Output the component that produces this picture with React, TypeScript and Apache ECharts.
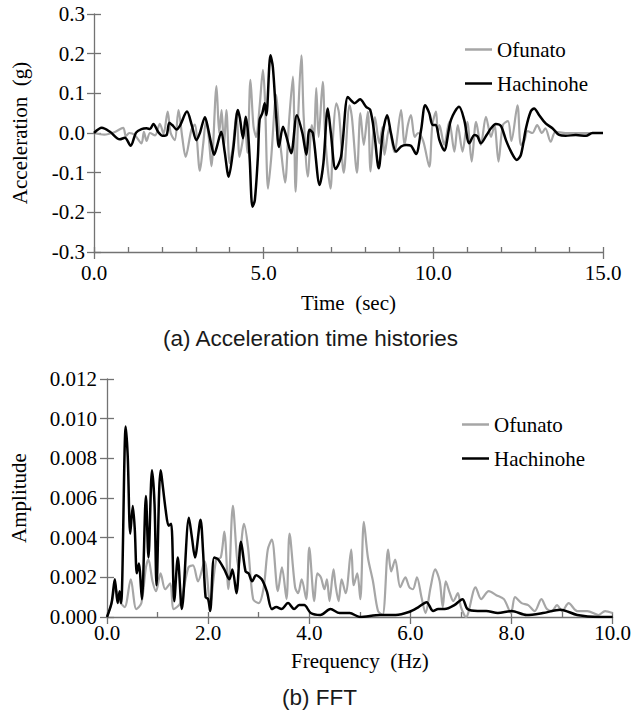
import React, { useEffect, useRef } from "react";
import * as echarts from "echarts";

const SERIF = "'Liberation Serif', 'Times New Roman', serif";
const SANS = "'Liberation Sans', Arial, sans-serif";

// (a) Acceleration time histories
const hachTime = [0, 0.23, 0.47, 0.76, 0.91, 1.08, 1.24, 1.4, 1.55, 1.65, 1.75, 1.89, 2.02, 2.14, 2.22, 2.33, 2.43, 2.53, 2.74, 2.88, 3.02, 3.12, 3.27, 3.36, 3.46, 3.54, 3.62, 3.75, 3.85, 3.97, 4.1, 4.24, 4.3, 4.39, 4.47, 4.54, 4.59, 4.67, 4.74, 4.83, 4.88, 4.96, 5.03, 5.08, 5.2, 5.27, 5.37, 5.45, 5.57, 5.67, 5.81, 5.98, 6.14, 6.26, 6.35, 6.45, 6.65, 6.76, 6.89, 6.98, 7.12, 7.28, 7.48, 7.6, 7.68, 7.84, 8.02, 8.14, 8.26, 8.39, 8.51, 8.64, 8.75, 8.9, 9.05, 9.2, 9.34, 9.49, 9.64, 9.76, 9.88, 9.98, 10.07, 10.18, 10.32, 10.52, 10.76, 10.91, 11.06, 11.21, 11.3, 11.4, 11.57, 11.7, 11.84, 11.99, 12.14, 12.29, 12.46, 12.58, 12.73, 12.87, 12.97, 13.12, 13.31, 13.51, 13.71, 13.9, 14.2, 14.5, 14.69, 15];
const hachAcc = [0, 0.013, 0.003, -0.016, -0.012, -0.032, 0.001, 0.01, 0.012, 0.01, 0.023, 0.003, -0.007, -0.005, 0.026, 0.018, 0.009, 0.018, 0.054, 0.02, -0.018, 0, 0.04, 0.012, -0.03, -0.055, -0.035, 0.003, -0.047, -0.11, -0.043, 0.058, 0.037, -0.013, 0.041, 0, -0.068, -0.186, -0.169, -0.06, 0.033, 0.05, 0.075, 0.045, 0.196, 0.167, 0.041, -0.035, 0.016, -0.009, -0.051, 0.045, 0, -0.055, 0.008, 0, -0.131, -0.076, 0.062, 0, -0.091, -0.06, 0.091, 0.08, 0.075, 0.085, 0.066, 0.058, 0, -0.089, 0, 0.045, 0, -0.047, -0.034, -0.03, -0.032, -0.053, 0.008, 0.07, 0.05, 0.02, 0.02, -0.018, -0.044, 0.033, 0.066, 0.033, -0.026, -0.005, -0.008, -0.026, -0.005, 0.012, 0.023, 0.018, -0.018, -0.047, -0.068, -0.055, 0.012, 0.054, 0.062, 0.045, 0.024, 0.012, -0.005, -0.007, -0.005, -0.007, 0, 0];

const ofuTime = [0, 0.3, 0.6, 0.86, 0.94, 1.04, 1.2, 1.4, 1.47, 1.55, 1.65, 1.8, 1.94, 2.05, 2.17, 2.26, 2.38, 2.49, 2.6, 2.7, 2.87, 2.97, 3.12, 3.22, 3.3, 3.38, 3.46, 3.61, 3.69, 3.76, 3.83, 3.9, 4.0, 4.1, 4.2, 4.29, 4.38, 4.45, 4.52, 4.61, 4.7, 4.78, 4.88, 4.98, 5.04, 5.13, 5.22, 5.37, 5.45, 5.52, 5.63, 5.74, 5.86, 5.94, 6.02, 6.11, 6.18, 6.3, 6.42, 6.48, 6.55, 6.62, 6.74, 6.82, 6.97, 7.05, 7.14, 7.22, 7.36, 7.53, 7.6, 7.75, 7.85, 7.95, 8.07, 8.15, 8.28, 8.41, 8.5, 8.56, 8.7, 8.85, 9.05, 9.15, 9.25, 9.34, 9.45, 9.55, 9.7, 9.88, 9.97, 10.08, 10.13, 10.18, 10.32, 10.47, 10.62, 10.72, 10.86, 11.0, 11.13, 11.26, 11.4, 11.55, 11.7, 11.8, 11.92, 12.05, 12.2, 12.3, 12.48, 12.58, 12.68, 12.78, 12.92, 13.06, 13.2, 13.3, 13.46, 13.6, 13.9, 14.5, 15];
const ofuAcc = [0, -0.004, 0.002, 0.013, -0.008, 0, -0.005, -0.026, 0.003, -0.02, 0, -0.006, 0.023, -0.002, 0.054, 0, -0.018, 0.058, -0.01, -0.06, 0.008, 0.021, -0.095, -0.026, 0.03, -0.01, -0.084, 0.118, 0, 0.058, -0.035, 0.058, -0.076, -0.03, 0.05, -0.06, -0.02, 0.02, -0.05, 0.134, 0.017, -0.01, 0.066, 0.159, 0.08, -0.14, -0.065, 0.096, 0.01, -0.051, -0.125, 0.02, 0.142, -0.148, 0.05, 0.196, 0.04, -0.11, 0.02, -0.01, 0.113, -0.01, 0.129, -0.02, -0.14, 0, 0.075, 0.05, -0.1, 0.07, 0.04, -0.1, 0.05, -0.03, 0.054, -0.097, 0.04, -0.026, 0.015, -0.055, 0.012, -0.048, 0.058, -0.03, 0.02, 0.045, -0.01, 0, -0.02, -0.085, 0.02, 0.054, 0, 0.02, -0.03, 0.028, -0.047, 0.02, -0.047, 0.028, -0.072, 0.028, -0.03, 0.041, -0.01, 0.02, -0.072, 0.02, 0.03, -0.02, 0.07, -0.03, -0.02, 0.005, 0, 0.02, 0, 0.012, -0.022, 0.003, 0, 0, 0];

// (b) FFT
const hachFreq = [0, 0.09, 0.155, 0.21, 0.25, 0.28, 0.37, 0.41, 0.46, 0.51, 0.55, 0.59, 0.63, 0.69, 0.77, 0.82, 0.89, 0.94, 0.98, 1.06, 1.16, 1.22, 1.27, 1.33, 1.4, 1.48, 1.62, 1.68, 1.74, 1.85, 1.9, 1.95, 2.0, 2.04, 2.12, 2.2, 2.32, 2.42, 2.48, 2.56, 2.65, 2.74, 2.8, 2.87, 2.95, 3.06, 3.16, 3.26, 3.35, 3.45, 3.58, 3.7, 3.8, 3.9, 4.03, 4.22, 4.42, 4.6, 4.8, 5.0, 5.4, 5.71, 5.97, 6.16, 6.32, 6.45, 6.55, 6.68, 6.87, 7.03, 7.13, 7.33, 7.5, 7.73, 8.0, 8.3, 8.62, 8.97, 9.3, 9.72, 10];
const hachAmp = [0, 0.0007, 0.0019, 0.0007, 0.0013, 0.0007, 0.0096, 0.0081, 0.0042, 0.0056, 0.0044, 0.0022, 0.0027, 0.0009, 0.0061, 0.003, 0.0074, 0.0057, 0.0016, 0.0074, 0.0054, 0.0046, 0.0047, 0.0008, 0.003, 0.0004, 0.005, 0.004, 0.003, 0.0049, 0.0033, 0.001, 0.0009, 0.0003, 0.003, 0.0029, 0.0024, 0.0019, 0.0024, 0.0012, 0.0038, 0.0023, 0.0022, 0.0018, 0.0021, 0.0019, 0.0013, 0.0004, 0.0005, 0.0004, 0.0007, 0.0004, 0.0006, 0.0006, 0.0002, 0.0001, 0.0004, 0.0002, 0.0002, 0, 0.0001, 0.0001, 0.00025, 0.0005, 0.00075, 0.0003, 0.0004, 0.0004, 0.0006, 0.0009, 0.0004, 0.0003, 0.0003, 0.0002, 0.0003, 0.0001, 0.0002, 0.00037, 0.0001, 0, 0];

const ofuFreq = [0, 0.1, 0.16, 0.25, 0.35, 0.47, 0.58, 0.68, 0.77, 0.82, 0.9, 0.97, 1.06, 1.15, 1.25, 1.32, 1.45, 1.61, 1.7, 1.8, 1.93, 2.04, 2.16, 2.25, 2.32, 2.4, 2.49, 2.6, 2.71, 2.79, 2.89, 3.0, 3.1, 3.18, 3.26, 3.38, 3.46, 3.55, 3.61, 3.72, 3.78, 3.85, 3.94, 4.0, 4.1, 4.16, 4.23, 4.3, 4.35, 4.4, 4.48, 4.52, 4.58, 4.64, 4.72, 4.83, 4.88, 4.95, 5.01, 5.08, 5.16, 5.26, 5.36, 5.45, 5.56, 5.62, 5.7, 5.8, 5.9, 5.98, 6.05, 6.13, 6.22, 6.3, 6.4, 6.49, 6.58, 6.64, 6.7, 6.78, 6.85, 6.94, 7.0, 7.1, 7.29, 7.4, 7.55, 7.7, 7.85, 7.99, 8.07, 8.2, 8.33, 8.46, 8.59, 8.7, 8.8, 8.9, 9.0, 9.13, 9.3, 9.5, 9.72, 9.85, 10];
const ofuAmp = [0, 0.0008, 0.0015, 0.0008, 0.0005, 0.0019, 0.0004, 0.0007, 0.0025, 0.0029, 0.0018, 0.0013, 0.0022, 0.0014, 0.0017, 0.0004, 0.0007, 0.0025, 0.0026, 0.0018, 0.0028, 0.0007, 0.0029, 0.003, 0.0043, 0.0014, 0.0056, 0.0025, 0.0047, 0.0035, 0.0009, 0.0007, 0.0015, 0.0034, 0.0039, 0.0013, 0.0025, 0.0009, 0.0042, 0.0015, 0.0012, 0.0019, 0.0009, 0.0035, 0.0008, 0.0022, 0.002, 0.0014, 0.0019, 0.0008, 0.0024, 0.0016, 0.0008, 0.0019, 0.0012, 0.0034, 0.0016, 0.0022, 0.0009, 0.0048, 0.003, 0.0018, 0.0003, 0.0001, 0.0034, 0.0023, 0.0029, 0.0015, 0.002, 0.0015, 0.0014, 0.002, 0.001, 0.0002, 0.0015, 0.0024, 0.0018, 0.0005, 0.0018, 0.0012, 0.0008, 0.0012, 0.0005, 0, 0.0015, 0.0009, 0.0013, 0.0011, 0.0009, 0.0002, 0.001, 0.0007, 0.0006, 0.0003, 0.0009, 0.0004, 0.0003, 0.0006, 0.0003, 0.0007, 0.0003, 0.0003, 0.0001, 0.0003, 0.0002];

const seriesNames = ["Ofunato", "Hachinohe"];
const timeTicks = { min: 0, max: 15, major: 5, minor: 1 };
const accTicks = { min: -0.3, max: 0.3, step: 0.1 };
const freqTicks = { min: 0, max: 10, major: 2, minor: 1 };
const ampTicks = { min: 0, max: 0.012, step: 0.002 };

const GRAY = "#a6a6a6";
const AXIS = "#737373";

const pairs = (xs: number[], ys: number[]) => xs.map((x, i) => [x, ys[i]]);

function mainAxis(grid: number, min: number, max: number, interval: number, digits: number, name: string, nameGap: number, margin: number, rotate: boolean) {
  return {
    gridIndex: grid,
    type: "value",
    min,
    max,
    interval,
    axisLine: { show: true, onZero: false, lineStyle: { color: AXIS, width: 1.3 } },
    axisTick: { show: true, inside: false, length: 7, lineStyle: { color: AXIS, width: 1.3 } },
    axisLabel: {
      fontFamily: SERIF,
      fontSize: 21,
      color: "#000",
      margin,
      formatter: (v: number) => v.toFixed(digits),
    },
    splitLine: { show: false },
    name,
    nameLocation: "middle",
    nameGap,
    nameRotate: rotate ? 90 : 0,
    nameTextStyle: { fontFamily: SERIF, fontSize: 21, color: "#000" },
  };
}

function innerAxis(grid: number, min: number, max: number, interval: number, len: number) {
  return {
    gridIndex: grid,
    type: "value",
    min,
    max,
    interval,
    axisLine: { show: false, onZero: false },
    axisTick: { show: true, inside: true, length: len, lineStyle: { color: AXIS, width: 1.3 } },
    axisLabel: { show: false },
    splitLine: { show: false },
  };
}

const legendCommon = {
  orient: "vertical",
  icon: "rect",
  itemWidth: 27,
  itemHeight: 2.5,
  itemGap: 13,
  textStyle: { fontFamily: SERIF, fontSize: 21, color: "#000" },
  data: seriesNames,
};

const option = {
  animation: false,
  backgroundColor: "#fff",
  grid: [
    { left: 94, top: 14, width: 509, height: 238 },
    { left: 102, top: 379, width: 512, height: 238 },
  ],
  legend: [
    { ...legendCommon, left: 460, top: 34 },
    { ...legendCommon, left: 457, top: 409 },
  ],
  xAxis: [
    { ...mainAxis(0, timeTicks.min, timeTicks.max, timeTicks.major, 1, "Time  (sec)", 40, 10, false), position: "bottom" },
    { ...innerAxis(0, timeTicks.min, timeTicks.max, timeTicks.minor, 5), position: "bottom" },
    { ...mainAxis(1, freqTicks.min, freqTicks.max, freqTicks.major, 1, "Frequency  (Hz)", 33, 5, false), position: "bottom" },
    { ...innerAxis(1, freqTicks.min, freqTicks.max, freqTicks.minor, 5), position: "bottom" },
  ],
  yAxis: [
    { ...mainAxis(0, accTicks.min, accTicks.max, accTicks.step, 1, "Acceleration  (g)", 64, 9, true), position: "left" },
    { ...innerAxis(0, accTicks.min, accTicks.max, accTicks.step, 7), position: "left" },
    { ...mainAxis(1, ampTicks.min, ampTicks.max, ampTicks.step, 3, "Amplitude", 78, 10, true), position: "left" },
    { ...innerAxis(1, ampTicks.min, ampTicks.max, ampTicks.step, 7), position: "left" },
  ],
  series: [
    {
      name: seriesNames[0], type: "line", xAxisIndex: 0, yAxisIndex: 0,
      data: pairs(ofuTime, ofuAcc), showSymbol: false, smooth: 0.3,
      lineStyle: { color: GRAY, width: 2.2 }, itemStyle: { color: GRAY }, z: 2,
    },
    {
      name: seriesNames[1], type: "line", xAxisIndex: 0, yAxisIndex: 0,
      data: pairs(hachTime, hachAcc), showSymbol: false, smooth: 0.3,
      lineStyle: { color: "#000", width: 2.5 }, itemStyle: { color: "#000" }, z: 3,
    },
    {
      name: seriesNames[0], type: "line", xAxisIndex: 2, yAxisIndex: 2,
      data: pairs(ofuFreq, ofuAmp), showSymbol: false, smooth: 0.3,
      lineStyle: { color: GRAY, width: 2.2 }, itemStyle: { color: GRAY }, z: 2,
    },
    {
      name: seriesNames[1], type: "line", xAxisIndex: 2, yAxisIndex: 2,
      data: pairs(hachFreq, hachAmp), showSymbol: false, smooth: 0.3,
      lineStyle: { color: "#000", width: 2.5 }, itemStyle: { color: "#000" }, z: 3,
    },
  ],
  graphic: [
    {
      type: "text", left: 163, top: 327,
      style: { text: "(a) Acceleration time histories", font: `22.5px ${SANS}`, fill: "#1a1a1a" },
    },
    {
      type: "text", left: 282, top: 686,
      style: { text: "(b) FFT", font: `22.5px ${SANS}`, fill: "#1a1a1a" },
    },
  ],
};

export default function App() {
  const ref = useRef<HTMLDivElement>(null);
  useEffect(() => {
    const chart = echarts.init(ref.current!, null, { renderer: "svg" });
    chart.setOption(option as any);
    return () => chart.dispose();
  }, []);
  return (
    <div
      ref={ref}
      style={{ position: "absolute", left: 0, top: 0, width: 634, height: 714, background: "#fff" }}
    />
  );
}
